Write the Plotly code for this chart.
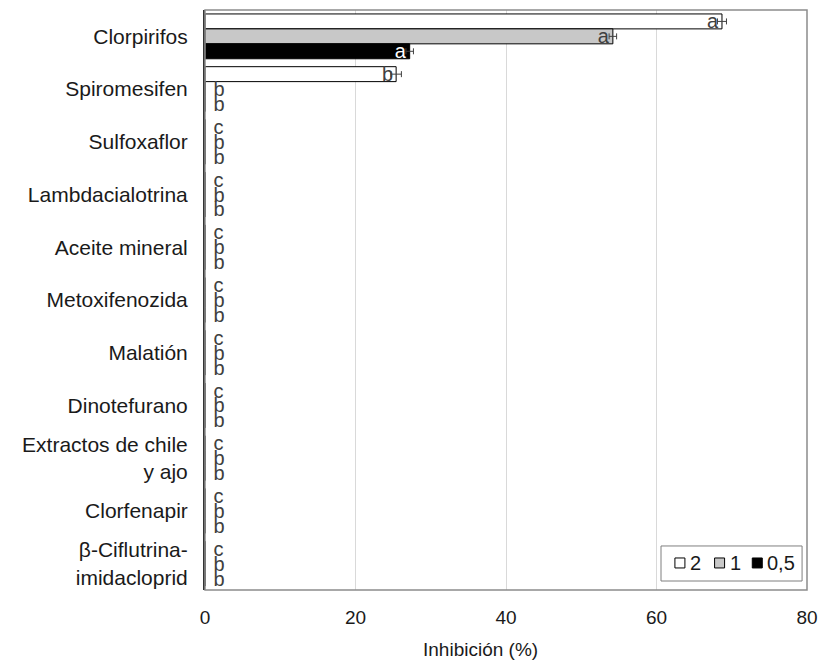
import plotly.graph_objects as go

categories = ["Clorpirifos", "Spiromesifen", "Sulfoxaflor", "Lambdacialotrina",
              "Aceite mineral", "Metoxifenozida", "Malatión", "Dinotefurano",
              "Extractos de chile<br>y ajo", "Clorfenapir", "β-Ciflutrina-<br>imidacloprid"]

series_names = ["2", "1", "0,5"]
values_2 = [68.7, 25.4, 0, 0, 0, 0, 0, 0, 0, 0, 0]
values_1 = [54.2, 0, 0, 0, 0, 0, 0, 0, 0, 0, 0]
values_05 = [27.2, 0, 0, 0, 0, 0, 0, 0, 0, 0, 0]
errors_2 = [0.6, 0.7, 0, 0, 0, 0, 0, 0, 0, 0, 0]
errors_1 = [0.5, 0, 0, 0, 0, 0, 0, 0, 0, 0, 0]
errors_05 = [0.5, 0, 0, 0, 0, 0, 0, 0, 0, 0, 0]
letters_2 = ["a", "b", "c", "c", "c", "c", "c", "c", "c", "c", "c"]
letters_1 = ["a", "b", "b", "b", "b", "b", "b", "b", "b", "b", "b"]
letters_05 = ["a", "b", "b", "b", "b", "b", "b", "b", "b", "b", "b"]
x_title = "Inhibición (%)"

fills = ["#ffffff", "#c8c8c8", "#000000"]
inside_text_colors = ["#404040", "#404040", "#ffffff"]

FONT = "Liberation Sans, Arial, sans-serif"

fig = go.Figure()
for name, vals, errs, letters, fill, itc in zip(
        series_names, [values_2, values_1, values_05], [errors_2, errors_1, errors_05],
        [letters_2, letters_1, letters_05], fills, inside_text_colors):
    positions = ["inside" if v > 0 else "outside" for v in vals]
    colors = [itc if v > 0 else "#404040" for v in vals]
    shown = [t if v > 0 else "\u00a0" + t for t, v in zip(letters, vals)]
    err_arr = [e if e > 0 else None for e in errs]
    fig.add_trace(go.Bar(
        name=name, y=categories, x=vals, orientation="h",
        marker=dict(color=fill, line=dict(color="#000000", width=1)),
        text=shown, textposition=positions, insidetextanchor="end", textangle=0,
        textfont=dict(family=FONT, size=20, color=colors),
        constraintext="none", cliponaxis=False, showlegend=False,
        error_x=dict(type="data", array=err_arr, visible=True,
                     color="#404040", thickness=1, width=3),
    ))

# Manual compact legend (box, swatches, labels)
shapes = [dict(type="rect", xref="paper", yref="paper", x0=0, x1=1, y0=0, y1=1,
               line=dict(color="#8c8c8c", width=1.5), layer="above"),
          dict(type="rect", xref="paper", yref="paper", x0=0.7575, x1=0.9918,
               y0=0.0155, y1=0.0759, line=dict(color="#7f7f7f", width=1),
               fillcolor="#ffffff", layer="above")]
annotations = []
sw_x = [0.7806, 0.8465, 0.9091]
yc = 0.0466
for sx, fill, name in zip(sw_x, fills, series_names):
    shapes.append(dict(type="rect", xref="paper", yref="paper", x0=sx, x1=sx + 0.0166,
                       y0=yc - 0.0086, y1=yc + 0.0086,
                       line=dict(color="#000000", width=1), fillcolor=fill, layer="above"))
    annotations.append(dict(xref="paper", yref="paper", x=sx + 0.0215, y=yc,
                            xanchor="left", yanchor="middle", text=name, showarrow=False,
                            font=dict(family=FONT, size=20, color="#1a1a1a")))

# Axis title (offset left of plot centre, as in the reference)
annotations.append(dict(xref="paper", yref="paper", x=0.458, y=-0.102,
                        xanchor="center", yanchor="middle", text=x_title, showarrow=False,
                        font=dict(family=FONT, size=19, color="#1a1a1a")))

fig.update_layout(
    width=810, height=654,
    margin=dict(l=197, r=11, t=2, b=72),
    paper_bgcolor="#ffffff", plot_bgcolor="#ffffff",
    barmode="group", bargap=0.15, bargroupgap=0,
    font=dict(family=FONT, size=21, color="#1a1a1a"),
    showlegend=False,
    xaxis=dict(range=[0, 80], dtick=20, showgrid=True, gridcolor="#d9d9d9",
               gridwidth=1, zeroline=False, showline=False, ticks="", automargin=False,
               tickfont=dict(size=19, color="#1a1a1a"), ticklabelstandoff=14),
    yaxis=dict(autorange="reversed", showline=True, linecolor="#333333", linewidth=2,
               ticks="", showgrid=False, automargin=False,
               tickfont=dict(size=21, color="#1a1a1a"), ticklabelstandoff=11),
    shapes=shapes, annotations=annotations,
)

fig.write_html("out.html")
